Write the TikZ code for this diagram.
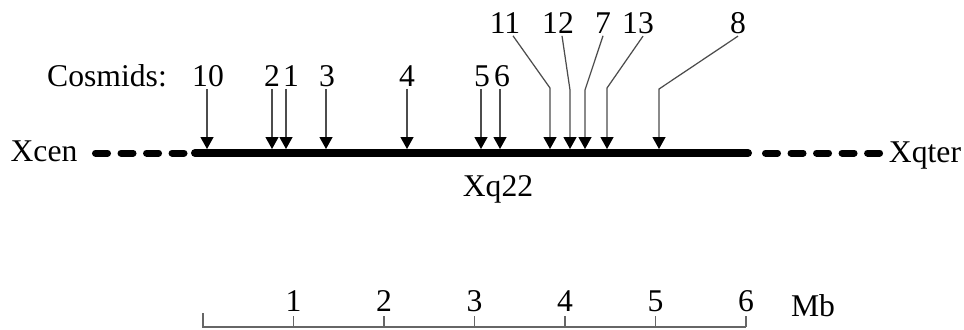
\documentclass[tikz,border=0pt]{standalone}
\usepackage{fontspec}
\setmainfont{Liberation Serif}
\usetikzlibrary{arrows.meta}

\begin{document}
\begin{tikzpicture}[x=0.01cm, y=-0.01cm,
    every node/.style={font=\fontsize{9}{11}\selectfont, inner sep=0.6pt},
    lbl/.style={anchor=base},
    hit/.style={draw=black!70, line width=0.35pt,
      -{Triangle[width=0.13cm, length=0.12cm, color=black]}},
    chrom/.style={line width=0.08cm, line cap=round},
    flank/.style={line width=0.07cm, line cap=round, dash pattern=on 0.12cm off 0.135cm},
    scalebar/.style={draw=black!60, line width=0.35pt}]
  \useasboundingbox (0,0) rectangle (964,329);

  % chromosome
  \coordinate (cen) at (195,153);
  \coordinate (qter) at (748,153);
  \coordinate (cenA) at (95.5,153);
  \coordinate (cenB) at (184,153);
  \coordinate (qterA) at (765.5,153);
  \coordinate (qterB) at (880,153);
  \draw[flank] (cenA) -- (cenB);
  \draw[chrom] (cen) -- (qter);
  \draw[flank] (qterA) -- (qterB);
  \node[lbl] (xcen) at (44,161) {Xcen};
  \node[lbl] (xqter) at (925,162) {Xqter};
  \node[lbl] (band) at (498,196) {Xq22};

  % cosmid hits
  \node[lbl] (cosm) at (107,86) {Cosmids:};
  \foreach \c/\hx/\lx in {10/207/208, 2/272/272, 1/286/291, 3/326/327,
                          4/407/407, 5/481/482, 6/500/502} {
    \coordinate (h\c) at (\hx,149);
    \node[lbl] (c\c) at (\lx,86) {\c};
    \draw[hit] (h\c |- c\c.south) -- (h\c);
  }
  \foreach \c/\hx/\lx/\kx/\ky/\dx in {11/550/505/550/88/0.08cm, 12/570/558/570/90/0.04cm,
                                      7/585/603/585/90/0cm, 13/607/638/607/88/0.05cm,
                                      8/659/738/659/89/0cm} {
    \coordinate (h\c) at (\hx,149);
    \coordinate (k\c) at (\kx,\ky);
    \node[lbl] (c\c) at (\lx,33) {\c};
    \draw[hit] ([xshift=\dx]c\c.south) -- (k\c) -- (h\c);
  }

  % scale in Mb
  \coordinate (s0) at (203,327);
  \coordinate (s6) at (746,327);
  \draw[scalebar] (203,313) -- (s0) -- (s6);
  \foreach \k in {1,...,6} {
    \coordinate (t\k) at (203+90.5*\k,327);
    \node[lbl] (m\k) at (203+90.5*\k,311) {\k};
    \draw[scalebar] (t\k) -- ++(0,-11);
  }
  \node[lbl] (mb) at (813,316) {Mb};
\end{tikzpicture}
\end{document}
